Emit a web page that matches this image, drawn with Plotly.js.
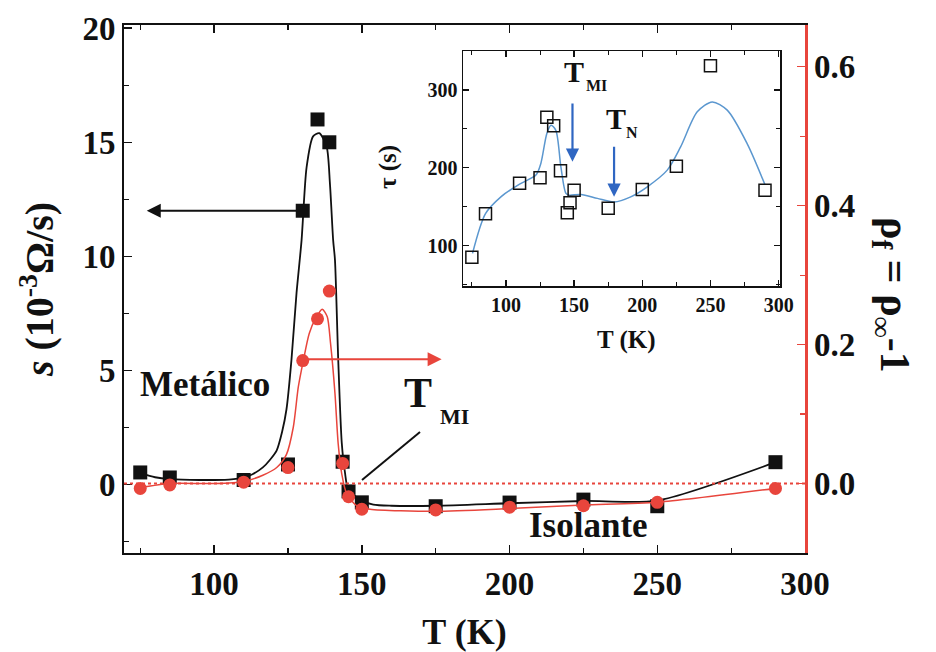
<!DOCTYPE html>
<html>
<head>
<meta charset="utf-8">
<script src="https://cdn.plot.ly/plotly-3.0.1.min.js"></script>
<style>html,body{margin:0;padding:0;background:#fff;}#chart{width:936px;height:652px;}</style>
</head>
<body>
<div id="chart"></div>
<script>
// ---- Main panel data ----
const mainT = [75, 85, 110, 125, 130, 135, 139, 143.5, 145.5, 150, 175, 200, 225, 250, 290];
const sValues = [0.53, 0.31, 0.2, 0.88, 12.0, 16.0, 15.0, 1.0, -0.3, -0.78, -0.95, -0.79, -0.66, -0.95, 0.98];
const rhoValues = [-0.007, -0.002, 0.002, 0.023, 0.177, 0.237, 0.277, 0.029, -0.019, -0.037, -0.038, -0.034, -0.032, -0.027, -0.007];

// fitted curves
const sFitT = [75, 80, 85, 95, 105, 110, 113, 116.5, 119, 121.2, 123, 124.5, 126.2, 127.9, 129.6, 131.3, 133.5, 135.6, 138.1, 139.2, 140.3, 140.9, 142, 143.2, 144.3, 145.4, 149.4, 153.9, 160, 175, 200, 225, 250, 290];
const sFitV = [0.5, 0.32, 0.24, 0.2, 0.22, 0.3, 0.45, 0.75, 1.1, 1.5, 2.3, 3.3, 5.5, 8.4, 10.7, 13.9, 15.26, 15.4, 14.8, 13.2, 10.7, 9.86, 5.5, 1.84, 0.52, -0.22, -0.66, -0.88, -0.93, -0.93, -0.82, -0.72, -0.7, 0.98];
const rhoFitT = [75, 85, 100, 110, 116.5, 121.2, 124.5, 126.8, 128.5, 130.2, 132.2, 134.4, 136.6, 138.3, 139.4, 140.9, 142, 143.2, 144.9, 148.3, 152.8, 175, 200, 225, 250, 290];
const rhoFitV = [-0.006, 0.0, 0.0, 0.003, 0.012, 0.023, 0.042, 0.081, 0.139, 0.177, 0.216, 0.238, 0.251, 0.24, 0.202, 0.13, 0.057, 0.014, -0.015, -0.032, -0.037, -0.04, -0.036, -0.031, -0.027, -0.007];

// ---- Inset data ----
const tauT = [75, 85, 110, 125, 130, 135, 140, 145, 147, 150, 175, 200, 225, 250, 290];
const tauV = [85, 141, 180, 187, 265, 254, 196, 142, 155, 171, 148, 172, 202, 331, 171];
const tauFitT = [75.5, 85, 96.3, 110, 122, 125.6, 130, 133, 136.6, 140.3, 144, 146.4, 155, 167.1, 179.3, 191.5, 203.7, 218.3, 228.1, 240.3, 251.3, 262.3, 276.9, 290];
const tauFitV = [90, 141, 162.6, 179, 190.5, 205.5, 244, 254.7, 248, 201, 167, 164.8, 165.7, 160.6, 156, 162.6, 175.5, 196.9, 226.8, 271.8, 284.6, 274, 231, 178];

// ---- tick labels ----
const xTickVals = [100, 150, 200, 250, 300];
const sTickVals = [0, 5, 10, 15, 20];
const rhoTickVals = [0.0, 0.2, 0.4, 0.6];
const rhoTickText = ['0.0', '0.2', '0.4', '0.6'];
const tauTickVals = [100, 200, 300];

const RED = '#e8453c';
const BLUE_CURVE = '#5b97cf';
const BLUE_ARROW = '#2f66c2';
const FONT = 'Liberation Serif, Times New Roman, serif';

// pixel -> paper helpers for text/annotation placement
const L = 124, R = 805, T0 = 25, B0 = 553;
const PX = x => (x - L) / (R - L);
const PY = y => (B0 - y) / (B0 - T0);

const traces = [
  {x: sFitT, y: sFitV, mode: 'lines', line: {color: '#111', width: 1.8, shape: 'spline', smoothing: 0.7}, xaxis: 'x', yaxis: 'y', hoverinfo: 'skip'},
  {x: mainT, y: sValues, mode: 'markers', marker: {symbol: 'square', size: 14, color: '#111'}, xaxis: 'x', yaxis: 'y'},
  {x: rhoFitT, y: rhoFitV, mode: 'lines', line: {color: RED, width: 1.5, shape: 'spline', smoothing: 0.7}, xaxis: 'x', yaxis: 'y2', hoverinfo: 'skip'},
  {x: mainT, y: rhoValues, mode: 'markers', marker: {symbol: 'circle', size: 13, color: RED}, xaxis: 'x', yaxis: 'y2'},
  {x: tauFitT, y: tauFitV, mode: 'lines', line: {color: BLUE_CURVE, width: 1.5, shape: 'spline', smoothing: 0.8}, xaxis: 'x2', yaxis: 'y3', hoverinfo: 'skip'},
  {x: tauT, y: tauV, mode: 'markers', marker: {symbol: 'square-open', size: 12, color: '#111', line: {width: 1.5, color: '#111'}}, xaxis: 'x2', yaxis: 'y3'}
];

const tickFontMain = {family: FONT, size: 33, color: '#111', weight: 700};
const tickFontInset = {family: FONT, size: 20, color: '#111', weight: 700};

const layout = {
  width: 936, height: 652,
  margin: {l: L, r: 936 - R, t: T0, b: 652 - B0},
  paper_bgcolor: '#fff', plot_bgcolor: '#fff',
  showlegend: false,
  font: {family: FONT, color: '#111'},
  xaxis: {
    domain: [0, 1], range: [69.5, 300], anchor: 'y',
    tickmode: 'array', tickvals: xTickVals,
    ticks: 'inside', ticklen: 8, tickwidth: 1.5, tickcolor: '#111',
    minor: {tick0: 0, dtick: 25, ticks: 'inside', ticklen: 5, tickwidth: 1.2, tickcolor: '#111'},
    showline: true, linewidth: 2, linecolor: '#111', mirror: 'ticks',
    showgrid: false, zeroline: false,
    tickfont: tickFontMain,
    title: {text: 'T (K)', font: {family: FONT, size: 36, color: '#111', weight: 700}, standoff: 20}
  },
  yaxis: {
    domain: [0, 1], range: [-3, 20.14], anchor: 'x',
    tickmode: 'array', tickvals: sTickVals,
    ticks: 'inside', ticklen: 8, tickwidth: 1.5, tickcolor: '#111',
    minor: {tick0: 0, dtick: 2.5, ticks: 'inside', ticklen: 5, tickwidth: 1.2, tickcolor: '#111'},
    showline: true, linewidth: 2, linecolor: '#111',
    showgrid: false, zeroline: false,
    tickfont: tickFontMain,
    title: {text: '<i>s</i> (10<sup>-3</sup>Ω/s)', font: {family: FONT, size: 40, color: '#111', weight: 700}, standoff: 16}
  },
  yaxis2: {
    overlaying: 'y', side: 'right', anchor: 'x',
    range: [-0.1, 0.66],
    tickmode: 'array', tickvals: rhoTickVals, ticktext: rhoTickText,
    ticks: 'inside', ticklen: 8, tickwidth: 1.5, tickcolor: RED,
    minor: {tick0: 0, dtick: 0.1, ticks: 'inside', ticklen: 5, tickwidth: 1.2, tickcolor: RED},
    showline: true, linewidth: 2.5, linecolor: RED,
    showgrid: false, zeroline: false,
    tickfont: tickFontMain
  },
  xaxis2: {
    domain: [PX(463), PX(780)], range: [68.5, 301], anchor: 'y3',
    tickmode: 'array', tickvals: xTickVals,
    ticks: 'inside', ticklen: 6, tickwidth: 1.3, tickcolor: '#111',
    minor: {tick0: 0, dtick: 25, ticks: 'inside', ticklen: 4, tickwidth: 1, tickcolor: '#111'},
    showline: true, linewidth: 1.5, linecolor: '#111', mirror: 'ticks',
    showgrid: false, zeroline: false,
    tickfont: tickFontInset
  },
  yaxis3: {
    domain: [PY(286), PY(51)], range: [48, 350], anchor: 'x2',
    tickmode: 'array', tickvals: tauTickVals,
    ticks: 'inside', ticklen: 6, tickwidth: 1.3, tickcolor: '#111',
    minor: {tick0: 0, dtick: 50, ticks: 'inside', ticklen: 4, tickwidth: 1, tickcolor: '#111'},
    showline: true, linewidth: 1.5, linecolor: '#111', mirror: 'ticks',
    showgrid: false, zeroline: false,
    tickfont: tickFontInset
  },
  shapes: [
    {type: 'line', xref: 'paper', x0: 0, x1: 1, yref: 'y2', y0: 0, y1: 0, line: {color: RED, width: 2, dash: 'dot'}},
    {type: 'line', xref: 'paper', yref: 'paper', x0: PX(420), y0: PY(432), x1: PX(362), y1: PY(480), line: {color: '#111', width: 2}}
  ],
  annotations: [
    {xref: 'paper', yref: 'paper', x: PX(205), y: PY(384), text: 'Metálico', showarrow: false, xanchor: 'center', yanchor: 'middle', font: {family: FONT, size: 35, color: '#111', weight: 700}},
    {xref: 'paper', yref: 'paper', x: PX(588), y: PY(525), text: 'Isolante', showarrow: false, xanchor: 'center', yanchor: 'middle', font: {family: FONT, size: 35, color: '#111', weight: 700}},
    {xref: 'paper', yref: 'paper', x: PX(418), y: PY(393), text: 'T', showarrow: false, xanchor: 'center', yanchor: 'middle', font: {family: FONT, size: 42, color: '#111', weight: 700}},
    {xref: 'paper', yref: 'paper', x: PX(454), y: PY(416), text: 'MI', showarrow: false, xanchor: 'center', yanchor: 'middle', font: {family: FONT, size: 22, color: '#111', weight: 700}},
    {xref: 'paper', yref: 'paper', x: PX(892), y: PY(295), text: 'ρ<sub>f</sub> = ρ<sub>∞</sub>-1', textangle: 90, showarrow: false, xanchor: 'center', yanchor: 'middle', font: {family: FONT, size: 42, color: '#111', weight: 700}},
    // main arrows
    {xref: 'x', yref: 'y', axref: 'x', ayref: 'y', x: 77.2, y: 12, ax: 129.5, ay: 12, text: '', showarrow: true, arrowhead: 2, arrowsize: 1.4, arrowwidth: 2, arrowcolor: '#111', standoff: 0, startstandoff: 0},
    {xref: 'x', yref: 'y2', axref: 'x', ayref: 'y2', x: 177, y: 0.179, ax: 130, ay: 0.179, text: '', showarrow: true, arrowhead: 2, arrowsize: 1.4, arrowwidth: 2, arrowcolor: RED, standoff: 0, startstandoff: 0},
    // inset titles
    {xref: 'paper', yref: 'paper', x: PX(626), y: PY(340), text: 'T (K)', showarrow: false, xanchor: 'center', yanchor: 'middle', font: {family: FONT, size: 25, color: '#111', weight: 700}},
    {xref: 'paper', yref: 'paper', x: PX(388), y: PY(167), text: 'τ (s)', textangle: -90, showarrow: false, xanchor: 'center', yanchor: 'middle', font: {family: FONT, size: 25, color: '#111', weight: 700}},
    // inset labels
    {xref: 'paper', yref: 'paper', x: PX(574), y: PY(72), text: 'T', showarrow: false, xanchor: 'center', yanchor: 'middle', font: {family: FONT, size: 30, color: '#111', weight: 700}},
    {xref: 'paper', yref: 'paper', x: PX(596), y: PY(86), text: 'MI', showarrow: false, xanchor: 'center', yanchor: 'middle', font: {family: FONT, size: 16, color: '#111', weight: 700}},
    {xref: 'paper', yref: 'paper', x: PX(616), y: PY(118), text: 'T', showarrow: false, xanchor: 'center', yanchor: 'middle', font: {family: FONT, size: 30, color: '#111', weight: 700}},
    {xref: 'paper', yref: 'paper', x: PX(632), y: PY(132), text: 'N', showarrow: false, xanchor: 'center', yanchor: 'middle', font: {family: FONT, size: 16, color: '#111', weight: 700}},
    // inset arrows
    {xref: 'x2', yref: 'y3', axref: 'x2', ayref: 'y3', x: 148.8, y: 207.6, ax: 148.8, ay: 284.6, text: '', showarrow: true, arrowhead: 2, arrowsize: 1.2, arrowwidth: 2.2, arrowcolor: BLUE_ARROW, standoff: 0, startstandoff: 0},
    {xref: 'x2', yref: 'y3', axref: 'x2', ayref: 'y3', x: 179.3, y: 162.6, ax: 179.3, ay: 229, text: '', showarrow: true, arrowhead: 2, arrowsize: 1.2, arrowwidth: 2.2, arrowcolor: BLUE_ARROW, standoff: 0, startstandoff: 0}
  ]
};

Plotly.newPlot('chart', traces, layout, {staticPlot: true, displayModeBar: false});
</script>
</body>
</html>
